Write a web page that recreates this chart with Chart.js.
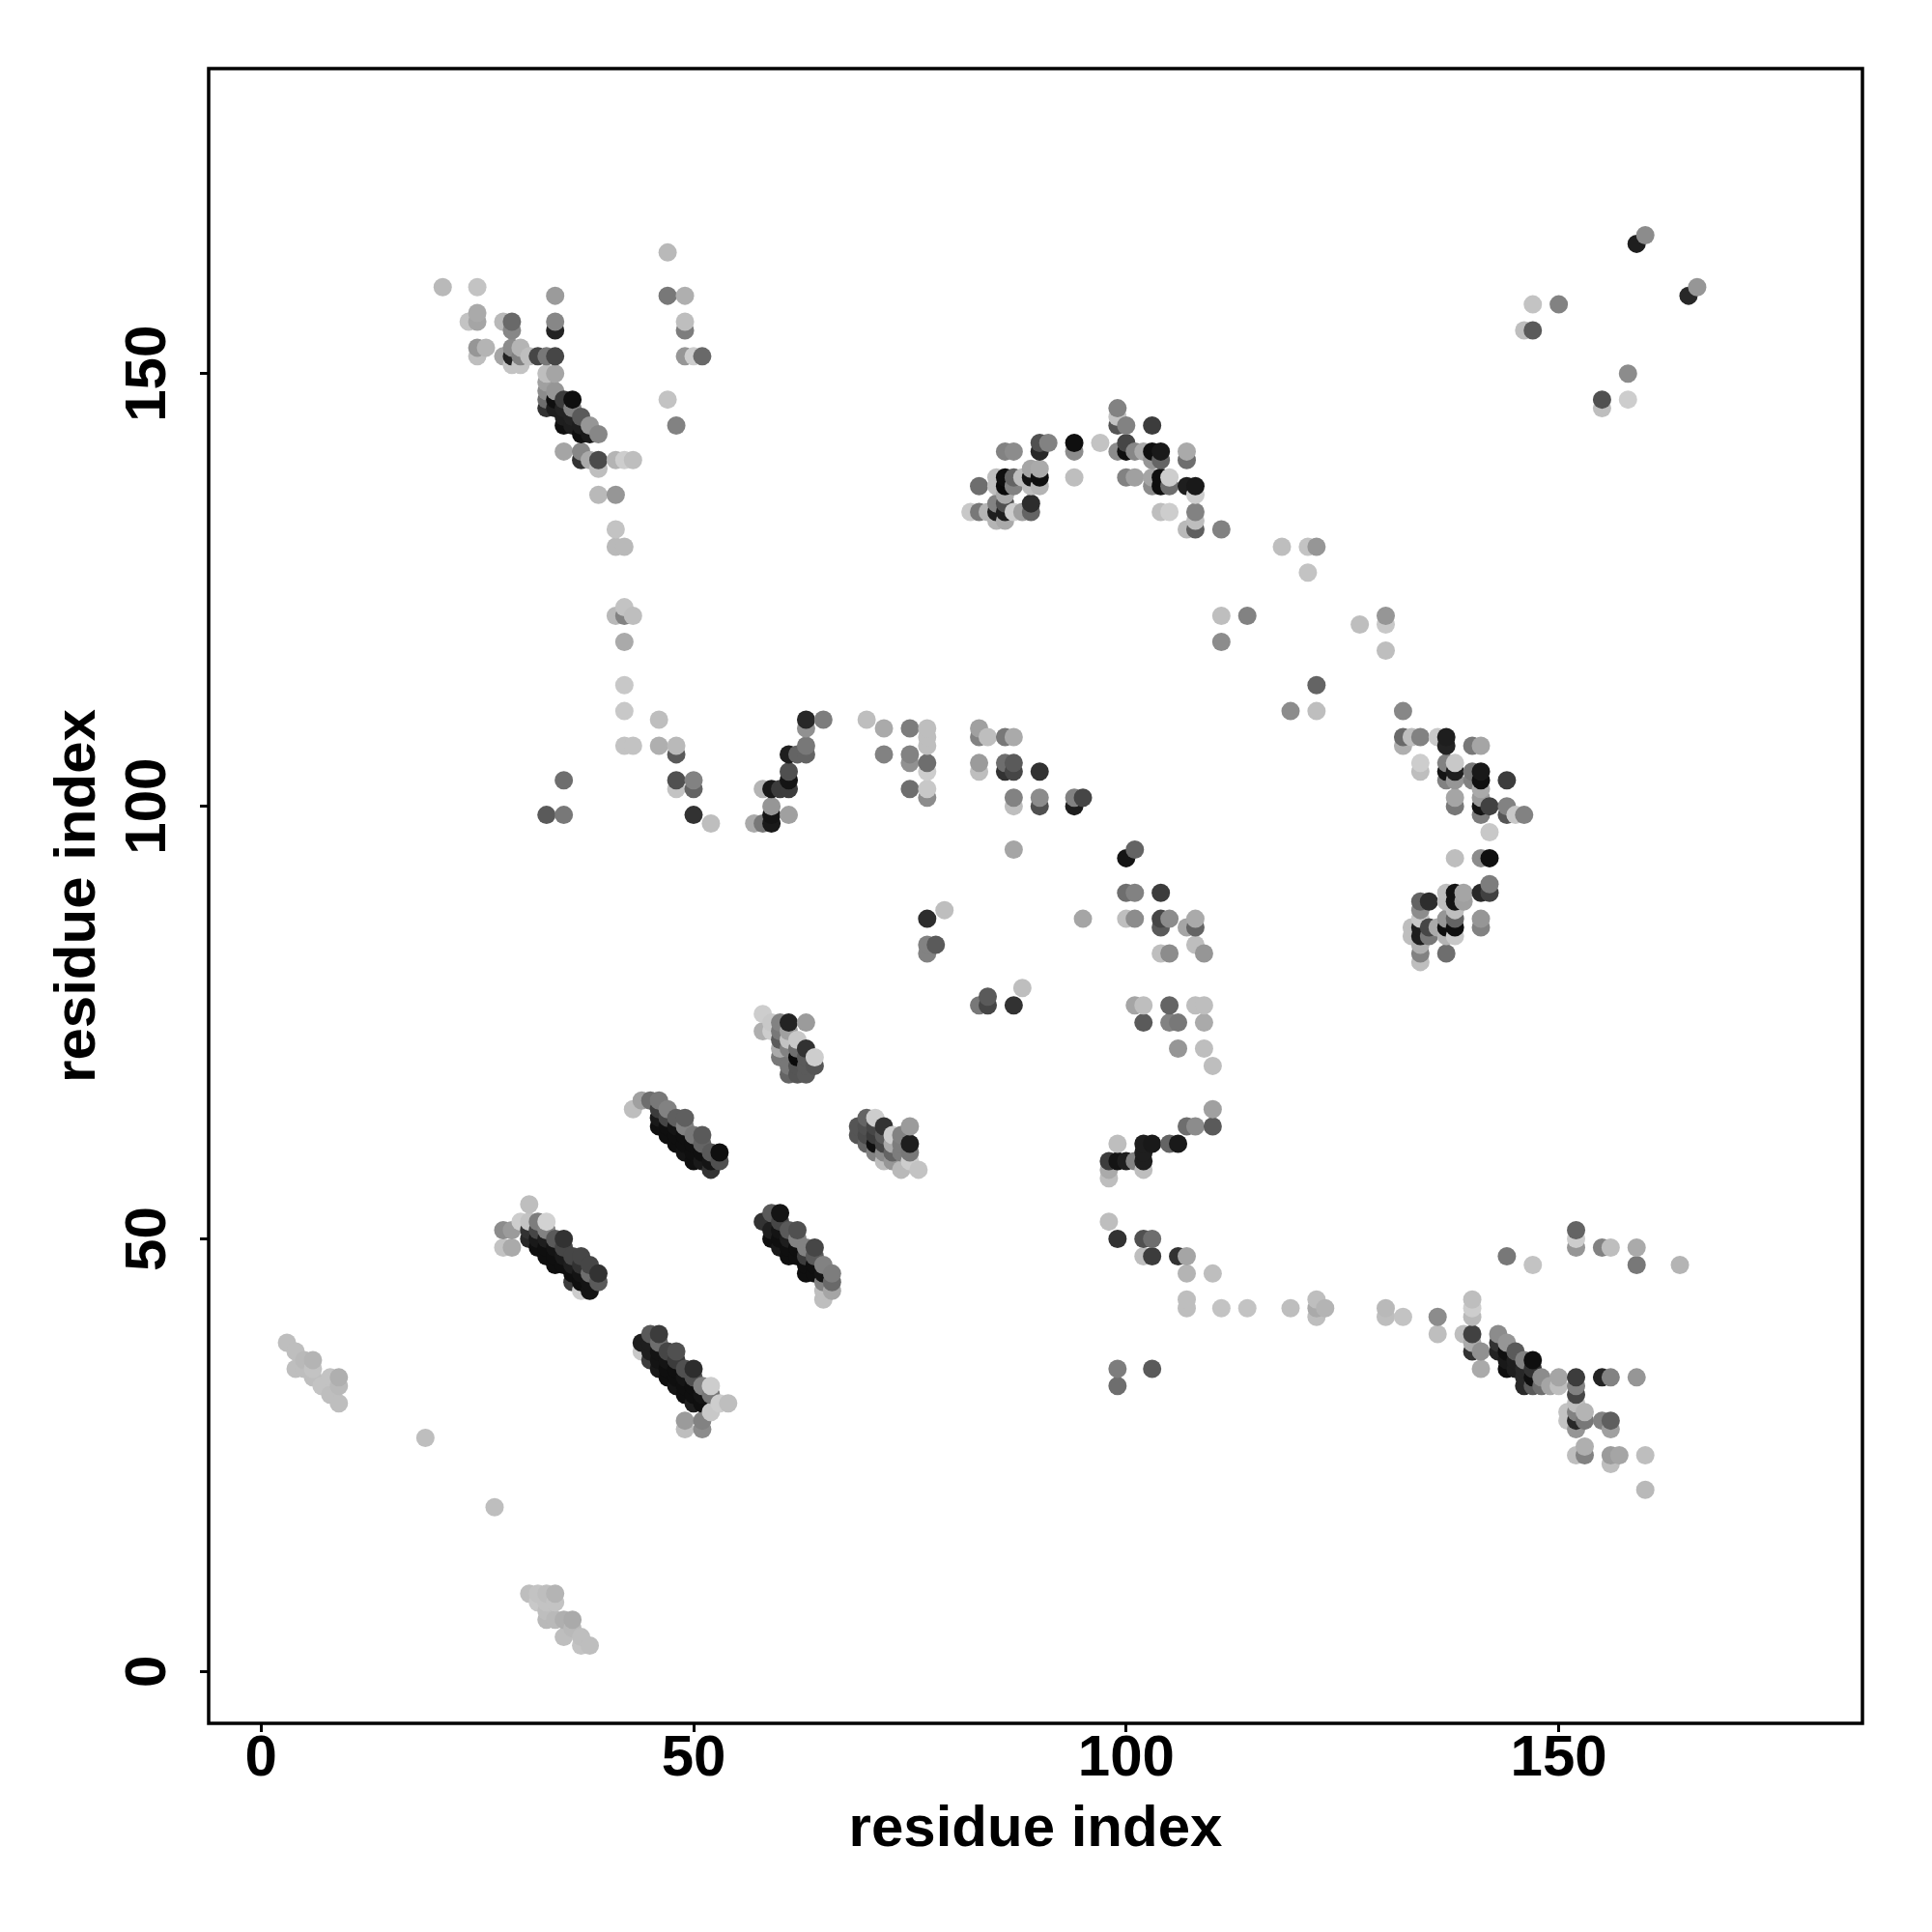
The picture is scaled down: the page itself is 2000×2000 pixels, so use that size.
<!DOCTYPE html>
<html><head><meta charset="utf-8">
<style>html,body{margin:0;padding:0;background:#fff}canvas{display:block}</style>
<script src="https://cdn.jsdelivr.net/npm/chart.js@4"></script></head>
<body><canvas id="c" width="2000" height="2000"></canvas>
<script>
const tickValues=[0,50,100,150];
const axisTitle="residue index";
// each contact: [residue i, residue j, grey level]
const lowerLeft=[[3,38,190],[4,37,190],[4,35,190],[5,36,185],[5,35,190],[6,36,180],[6,34,190],[6,35,195],[7,33,195],[8,34,195],[8,32,190],[9,34,175],[9,33,185],[9,31,190],[19,27,190],[27,19,190]];
const bottom=[[31,9,190],[32,9,195],[32,8,200],[33,9,190],[33,8,195],[33,7,190],[33,6,185],[34,9,180],[34,8,195],[34,6,185],[35,6,175],[35,4,190],[36,6,170],[36,5,185],[37,4,190],[37,3,195],[38,3,190]];
const topLeft=[[21,160,185],[25,160,195],[34,159,155],[47,164,185],[47,159,120],[49,159,175],[25,157,170],[24,156,195],[25,156,165],[28,156,185],[29,156,105],[29,155,135],[34,156,135],[34,155,35],[49,156,190],[49,155,125],[25,153,150],[26,153,180],[25,152,190],[28,152,165],[29,153,140],[30,153,180],[29,152,35],[30,152,130],[31,152,190],[29,151,195],[30,151,195],[32,152,70],[33,152,120],[34,152,70],[33,150,190],[34,150,165],[33,149,160],[33,148,140],[33,147,110],[33,146,50],[34,148,150],[34,147,15],[34,146,30],[36,147,15],[35,147,60],[35,146,35],[35,145,30],[35,144,15],[36,146,130],[36,145,35],[36,144,30],[37,145,90],[37,144,30],[37,143,15],[38,144,150],[38,143,25],[39,143,135],[35,141,165],[37,141,135],[37,140,50],[38,140,170],[39,140,75],[39,139,190],[41,140,180],[42,140,205],[43,140,190],[39,136,185],[41,136,150],[41,132,195],[41,130,185],[42,130,185],[41,122,185],[42,123,195],[43,122,190],[42,122,130],[42,119,170],[42,114,200],[47,147,195],[48,144,130],[49,152,150],[50,152,205],[51,152,105]];
const topRight=[[160,166,140],[159,165,30],[166,160,150],[165,159,40],[147,158,195],[150,158,130],[146,155,190],[147,155,90],[158,150,140],[155,147,80],[155,146,190],[158,147,205]];
const arch=[[99,146,130],[99,145,195],[99,144,85],[100,144,130],[103,144,60],[97,142,195],[94,142,15],[94,141,140],[90,141,40],[90,142,80],[91,142,130],[86,141,130],[87,141,140],[100,142,70],[99,141,140],[100,141,15],[101,141,135],[102,141,170],[103,141,15],[104,141,25],[107,141,170],[107,140,110],[103,140,150],[104,140,100],[83,137,110],[85,138,190],[86,138,15],[87,138,100],[88,138,190],[89,139,165],[90,139,170],[89,138,20],[90,138,15],[89,137,190],[90,137,180],[85,137,190],[86,137,10],[87,137,130],[86,136,170],[94,138,190],[100,138,130],[101,138,160],[103,138,165],[104,138,15],[105,138,205],[103,137,140],[104,137,15],[105,137,110],[107,137,30],[108,137,25],[108,136,205],[82,134,200],[83,134,120],[84,134,180],[85,135,130],[85,134,30],[85,133,180],[86,135,80],[86,134,30],[86,133,170],[87,134,205],[88,134,160],[89,135,45],[89,134,100],[104,134,190],[105,134,205],[108,134,130],[108,133,190],[107,132,185],[108,132,95],[111,132,130],[118,130,190],[121,130,195],[122,130,150],[121,127,195]];
const midRight=[[111,122,190],[114,122,130],[111,119,140],[119,111,140],[122,111,190],[122,114,100],[127,121,190],[130,122,150],[130,121,200],[130,118,190]];
const rightCluster=[[132,111,135],[132,108,105],[132,107,175],[133,108,190],[134,108,130],[136,108,200],[137,108,30],[137,107,35],[140,107,120],[141,107,165],[134,105,205],[134,104,190],[137,105,130],[137,104,20],[137,103,130],[138,105,200],[138,104,30],[138,103,150],[140,104,120],[140,103,130],[141,104,25],[141,103,15],[141,102,170],[144,103,60],[138,101,165],[138,100,120],[141,101,155],[141,100,20],[141,99,125],[142,100,65],[144,100,130],[144,99,85],[145,99,200],[146,99,130],[142,97,200],[138,94,190],[141,94,140],[142,94,15],[142,91,125],[141,90,40],[142,90,65],[137,90,190],[137,89,190],[138,90,20],[138,89,20],[139,90,165],[139,89,160],[138,88,190],[134,89,100],[135,89,45],[134,88,140],[137,87,150],[138,87,100],[141,87,150],[141,86,130],[134,87,200],[133,86,190],[133,85,190],[134,86,30],[134,85,30],[135,86,70],[135,85,120],[136,86,170],[137,86,15],[138,86,15],[137,85,180],[138,85,200],[134,84,175],[134,83,130],[134,82,190],[137,83,110]];
const midBand=[[35,103,110],[33,99,90],[35,99,120],[42,111,200],[42,107,195],[43,107,195],[46,110,190],[46,107,175],[48,107,185],[48,106,90],[48,103,80],[48,102,195],[50,103,130],[50,102,100],[50,99,50],[52,98,190],[57,98,170],[58,98,120],[59,98,25],[59,99,20],[59,100,150],[58,102,180],[59,102,25],[60,102,60],[61,102,60],[61,103,20],[61,99,160],[61,104,80],[61,106,30],[62,106,100],[63,107,120],[63,106,100],[63,109,145],[63,110,40],[65,110,125],[70,110,190],[72,109,170],[72,106,130],[75,109,125],[75,106,130],[75,105,145],[77,109,190],[77,108,190],[77,107,190],[77,105,110],[77,104,205],[75,102,110],[77,102,200],[77,101,140],[83,109,160],[83,108,130],[84,108,190],[86,108,120],[87,108,170],[83,105,155],[83,104,190],[86,105,110],[86,104,50],[87,105,90],[87,104,70],[90,104,50],[87,101,130],[87,100,190],[90,101,140],[90,100,80],[94,101,130],[95,101,70],[94,100,30],[87,95,165]];
const centerRight=[[77,87,45],[79,88,190],[77,84,130],[78,84,90],[77,83,130],[95,87,165],[84,78,90],[83,77,120],[84,77,70],[87,77,50],[88,79,190],[100,94,20],[101,95,100],[100,90,110],[101,90,130],[104,90,60],[100,87,190],[101,87,140],[104,87,70],[105,87,140],[104,86,90],[107,86,165],[108,87,170],[108,86,100],[104,83,190],[105,83,140],[108,84,190],[109,83,150],[101,77,165],[102,77,190],[105,77,100],[108,77,190],[109,77,190],[102,75,90],[105,75,130],[106,75,120],[109,75,170],[106,72,150],[109,72,190],[110,70,190],[110,65,160],[107,63,110],[110,63,90],[108,63,140],[105,61,100],[106,61,25],[103,61,25],[102,61,30],[99,61,190],[102,60,30],[98,59,60],[99,59,20],[100,59,30],[102,59,30],[98,58,170],[98,57,190],[101,59,130],[102,58,190],[98,52,190],[99,50,50],[102,50,80],[103,50,110],[102,48,190],[103,48,60],[106,48,50],[107,48,165],[107,46,180],[110,46,190],[107,43,190],[107,42,190],[111,42,195],[114,42,195],[99,35,125],[99,33,110],[103,35,90],[119,42,190],[122,43,190],[122,41,190],[123,42,180],[122,42,170]];
const groupA=[[31,54,190],[30,52,205],[31,52,195],[28,51,140],[29,51,155],[28,49,195],[29,49,170],[32,52,125],[33,52,210],[31,51,50],[31,50,40],[32,51,70],[32,50,25],[32,49,15],[33,51,130],[33,50,30],[33,49,15],[33,48,15],[34,50,90],[34,49,20],[34,48,15],[34,47,15],[35,50,50],[35,49,70],[35,48,25],[35,47,15],[36,48,70],[36,47,30],[36,46,15],[36,45,60],[37,48,70],[37,47,50],[37,46,20],[37,45,15],[37,44,205],[38,47,70],[38,46,110],[38,45,20],[38,44,20],[39,46,50],[39,45,90]];
const groupB=[[58,52,50],[59,53,90],[60,53,20],[59,51,30],[59,50,15],[60,52,70],[60,51,20],[60,50,15],[60,49,25],[61,51,90],[61,50,30],[61,49,15],[61,48,15],[62,51,80],[62,50,130],[62,49,15],[62,48,15],[63,49,130],[63,48,60],[63,47,15],[63,46,15],[64,49,70],[64,48,90],[64,47,15],[64,46,15],[65,47,130],[65,46,20],[65,45,130],[65,44,190],[65,43,190],[66,46,125],[66,45,105],[66,44,165]];
const groupC=[[44,38,30],[44,37,200],[45,39,90],[46,39,60],[45,38,30],[45,37,30],[45,36,60],[46,38,110],[46,37,20],[46,36,20],[46,35,25],[47,37,70],[47,36,20],[47,35,15],[47,34,15],[48,37,80],[48,36,60],[48,35,15],[48,34,15],[48,33,20],[49,35,80],[49,34,20],[49,33,15],[49,32,15],[50,35,45],[50,34,80],[50,33,15],[50,32,15],[50,31,30],[51,33,130],[51,32,20],[51,31,15],[52,33,205],[52,32,120],[52,30,200],[53,31,205],[54,31,190],[49,29,155],[49,28,190],[51,29,130],[51,28,140]];
const groupD=[[43,65,190],[44,66,160],[45,66,110],[46,66,120],[47,65,130],[48,64,95],[49,64,95],[46,65,60],[46,64,25],[46,63,15],[47,64,70],[47,63,15],[47,62,15],[48,63,20],[48,62,15],[48,61,15],[49,63,130],[49,62,15],[49,61,15],[49,60,20],[50,62,120],[50,61,15],[50,60,15],[50,59,15],[51,62,90],[51,61,100],[51,60,15],[51,59,25],[52,60,90],[52,59,20],[52,58,50],[53,60,15],[53,59,80]];
const groupE=[[58,76,205],[58,74,175],[59,74,205],[59,75,200],[60,75,130],[61,75,35],[63,75,155],[60,74,120],[61,74,160],[60,73,90],[61,73,195],[62,73,200],[60,72,170],[60,71,120],[61,72,130],[62,72,110],[63,72,50],[62,71,10],[64,71,205],[63,71,90],[64,70,85],[63,70,90],[62,70,85],[62,69,85],[63,69,90],[61,70,120],[61,69,100]];
const groupF=[[69,63,85],[69,62,85],[70,64,100],[71,64,205],[72,63,50],[73,62,205],[75,63,155],[75,61,30],[74,61,125],[71,60,130],[72,60,140],[73,60,100],[74,60,125],[75,60,120],[74,58,185],[75,59,205],[76,58,195],[70,63,80],[71,63,70],[71,62,60],[71,61,15],[72,62,90],[72,61,70],[73,61,170],[70,62,75],[70,61,100],[74,62,130],[72,59,190],[73,59,150]];
const lowerRight=[[130,42,185],[130,41,190],[132,41,195],[136,41,140],[136,39,190],[139,39,190],[140,43,190],[140,42,205],[140,41,185],[140,39,65],[140,38,170],[140,37,50],[141,37,145],[141,35,170],[143,39,140],[144,38,150],[145,37,90],[146,36,130],[147,36,15],[143,38,50],[143,37,35],[144,37,15],[144,36,25],[144,35,15],[145,36,30],[145,35,30],[146,35,40],[146,34,40],[146,33,40],[147,35,50],[147,34,15],[147,33,90],[148,34,140],[148,33,110],[149,33,165],[150,34,165],[150,33,190],[152,34,60],[152,33,130],[152,32,70],[152,31,190],[155,34,35],[156,34,130],[159,34,150],[151,30,195],[151,29,195],[152,30,130],[152,29,40],[152,28,150],[153,30,180],[153,29,120],[155,29,130],[156,29,95],[156,28,160],[152,25,190],[153,26,175],[153,25,130],[156,25,155],[157,25,165],[156,24,190],[160,25,190],[160,21,185],[152,51,100],[152,50,205],[152,49,150],[155,49,130],[156,49,190],[159,49,170],[159,47,120],[164,47,180],[144,48,120],[147,47,195]];

const contacts=[lowerLeft,bottom,topLeft,topRight,arch,midRight,rightCluster,midBand,centerRight,groupA,groupB,groupC,groupD,groupE,groupF,lowerRight].flat()
  .sort((a,b)=>a[0]-b[0]||a[1]-b[1]);

const FONT='"Liberation Sans",Arial,sans-serif';
const frame={id:'frame',afterDraw(ch){const a=ch.chartArea,c=ch.ctx;c.save();c.strokeStyle='#000';c.lineWidth=3.5;c.strokeRect(a.left,a.top,a.right-a.left,a.bottom-a.top);c.restore();}};
const setTicks=s=>{s.ticks=tickValues.map(v=>({value:v}));};
new Chart(document.getElementById('c'),{
 type:'scatter',
 data:{datasets:[{data:contacts.map(p=>({x:p[0],y:p[1]})),
   pointBackgroundColor:contacts.map(p=>`rgb(${p[2]},${p[2]},${p[2]})`),
   pointBorderWidth:0,pointRadius:9.5,pointHoverRadius:9.5,clip:false}]},
 options:{responsive:false,animation:false,
  layout:{padding:{top:71,right:72,left:0,bottom:0}},
  plugins:{legend:{display:false},tooltip:{enabled:false}},
  scales:{
   x:{type:'linear',min:-6.05,max:185.1,afterBuildTicks:setTicks,afterFit(s){s.height=216;},
     grid:{drawOnChartArea:false,color:'#000',lineWidth:3,tickLength:9},border:{display:false},
     ticks:{color:'#000',font:{family:FONT,weight:'bold',size:60},padding:-8,maxRotation:0,minRotation:0,callback:v=>String(v)},
     title:{display:true,text:axisTitle,color:'#000',font:{family:FONT,weight:'bold',size:60},padding:{top:0,bottom:70}}},
   y:{type:'linear',min:-5.98,max:185.25,afterBuildTicks:setTicks,afterFit(s){s.width=216;},
     grid:{drawOnChartArea:false,color:'#000',lineWidth:3,tickLength:9},border:{display:false},
     ticks:{color:'#000',font:{family:FONT,weight:'bold',size:60},padding:2.5,minRotation:90,maxRotation:90,crossAlign:'center',callback:v=>String(v)},
     title:{display:true,text:axisTitle,color:'#000',font:{family:FONT,weight:'bold',size:60},padding:{top:45,bottom:0}}}
  }},
 plugins:[frame]});
</script></body></html>
